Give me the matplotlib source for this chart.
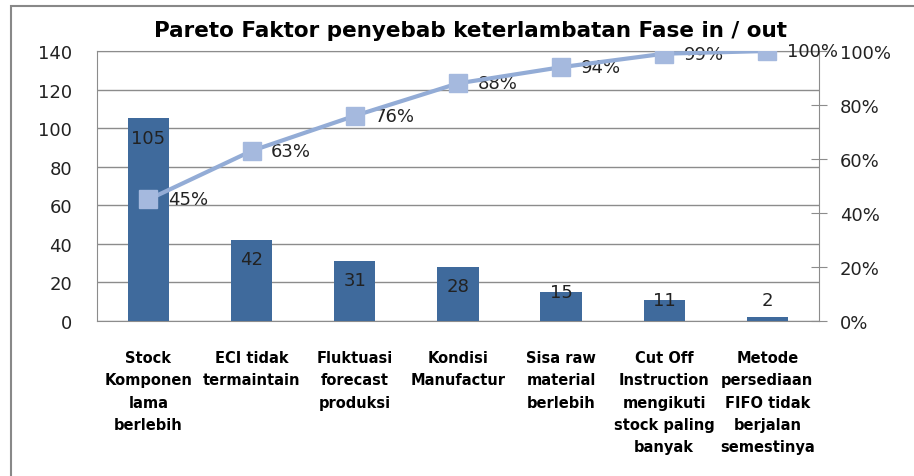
import matplotlib
matplotlib.use('Agg')
import matplotlib.pyplot as plt
from matplotlib.patches import Rectangle
from matplotlib.ticker import FuncFormatter

plt.rcParams['font.family'] = ['DejaVu Sans']

# data
categories = ['Stock\nKomponen\nlama\nberlebih', 'ECI tidak\ntermaintain',
              'Fluktuasi\nforecast\nproduksi', 'Kondisi\nManufactur',
              'Sisa raw\nmaterial\nberlebih', 'Cut Off\nInstruction\nmengikuti\nstock paling\nbanyak',
              'Metode\npersediaan\nFIFO tidak\nberjalan\nsemestinya']
counts = [105, 42, 31, 28, 15, 11, 2]
cum_pct = [45, 63, 76, 88, 94, 99, 100]
left_ticks = [0, 20, 40, 60, 80, 100, 120, 140]
right_ticks = [0, 20, 40, 60, 80, 100]

bar_color = '#3f6a9c'
line_color = '#93acd6'
marker_color = '#a5b9de'
grid_color = '#8c8c8c'
text_color = '#222222'

fig = plt.figure(figsize=(9.14, 4.77), dpi=100)
ax = fig.add_axes([0.106, 0.325, 0.790, 0.566])
ax2 = ax.twinx()

x = list(range(len(categories)))
ax.bar(x, counts, width=0.4, color=bar_color, zorder=3)
for xi, v in zip(x, counts):
    ly = v - 10 if v > 25 else max(v, 11)
    ax.text(xi, ly, str(v), ha='center', va='center', fontsize=13, color=text_color, zorder=4)

ax.set_xlim(-0.5, len(categories) - 0.5)
ax.set_ylim(0, 140)
ax.set_yticks(left_ticks)
ax.set_xticks(x)
ax.set_xticklabels(categories, fontsize=10.5, fontweight='bold', linespacing=1.6, va='top')
ax.tick_params(axis='x', length=0, pad=21)
ax.tick_params(axis='y', length=0, pad=18, labelsize=13, labelcolor=text_color)
ax.grid(axis='y', color=grid_color, lw=1, zorder=0)
ax.set_axisbelow(True)
for s in ['left', 'top', 'bottom']:
    ax.spines[s].set_color(grid_color)
ax.spines['right'].set_visible(False)

ax2.plot(x, cum_pct, color=line_color, lw=3, marker='s', markersize=13,
         markerfacecolor=marker_color, markeredgecolor=marker_color, zorder=5)
for xi, p in zip(x, cum_pct):
    ax2.annotate(f'{p}%', (xi, p), xytext=(14, 0), textcoords='offset points',
                 ha='left', va='center', fontsize=13, color=text_color)
ax2.set_ylim(0, 100)
ax2.set_yticks(right_ticks)
ax2.yaxis.set_major_formatter(FuncFormatter(lambda v, _: f'{v:.0f}%'))
ax2.tick_params(axis='y', direction='inout', length=12, color=grid_color, pad=9,
                labelsize=13, labelcolor=text_color)
ax2.spines['right'].set_color(grid_color)
for s in ['left', 'top', 'bottom']:
    ax2.spines[s].set_visible(False)

fig.text(0.515, 0.935, 'Pareto Faktor penyebab keterlambatan Fase in / out',
         ha='center', va='center', fontsize=15.5, fontweight='bold')

# chart frame
fig.patches.append(Rectangle((0.012, -0.05), 1.1, 1.035, transform=fig.transFigure,
                             fill=False, edgecolor='#888888', lw=1.5))

fig.savefig('out.png', dpi=100)
